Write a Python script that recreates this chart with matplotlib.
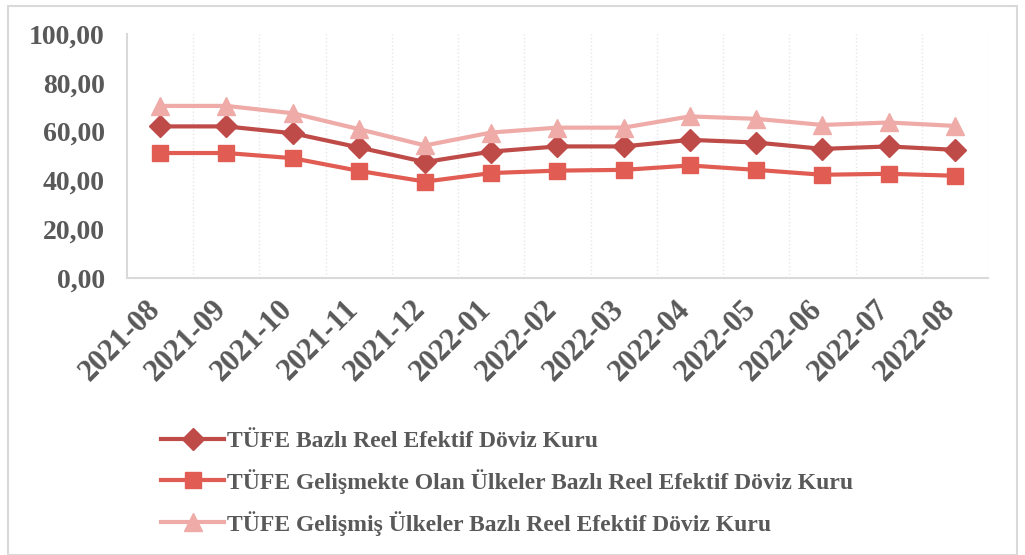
import matplotlib.pyplot as plt
import matplotlib.transforms as mtransforms
from matplotlib.patches import Rectangle

months = ['2021-08', '2021-09', '2021-10', '2021-11', '2021-12', '2022-01', '2022-02',
          '2022-03', '2022-04', '2022-05', '2022-06', '2022-07', '2022-08']
tufe = [62.1, 62.1, 59.3, 53.5, 47.5, 51.8, 53.9, 53.9, 56.6, 55.5, 52.9, 53.9, 52.5]
gelismekte = [51.2, 51.2, 49.1, 43.9, 39.5, 43.0, 44.0, 44.3, 46.1, 44.3, 42.3, 42.7, 41.9]
gelismis = [70.5, 70.5, 67.5, 61.0, 54.3, 59.6, 61.6, 61.6, 66.2, 65.2, 62.7, 63.7, 62.3]
labels = ['TÜFE Bazlı Reel Efektif Döviz Kuru',
          'TÜFE Gelişmekte Olan Ülkeler Bazlı Reel Efektif Döviz Kuru',
          'TÜFE Gelişmiş Ülkeler Bazlı Reel Efektif Döviz Kuru']

plt.rcParams['font.family'] = ['Liberation Serif', 'DejaVu Serif']
plt.rcParams['font.weight'] = 'bold'
grey = '#595959'

fig = plt.figure(figsize=(10.25, 5.55), dpi=100)
fig.patches.append(Rectangle((0.008, 0.0), 0.984, 0.99, transform=fig.transFigure,
                             fill=False, edgecolor='#d9d9d9', linewidth=1.5))
ax = fig.add_axes([0.1239, 0.499, 0.84, 0.44])

x = list(range(len(months)))
ax.plot(x, tufe, color='#be4b48', lw=3, marker='D', ms=11, label=labels[0])
ax.plot(x, gelismekte, color='#e15c52', lw=3, marker='s', ms=12, label=labels[1])
ax.plot(x, gelismis, color='#eeaba8', lw=3, marker='^', ms=13, label=labels[2])

ax.set_xlim(-0.5, len(months) - 0.5)
ax.set_ylim(0, 100)
ax.set_yticks([0, 20, 40, 60, 80, 100])
ax.set_yticklabels(['0,00', '20,00', '40,00', '60,00', '80,00', '100,00'])
ax.set_xticks(x)
ax.set_xticklabels(months, rotation=45, ha='right', va='top')
ax.set_xticks([i + 0.5 for i in x], minor=True)
ax.grid(axis='x', which='minor', color='#e6e6e6', linestyle=':', lw=1)
ax.tick_params(axis='both', which='both', length=0, colors=grey)
ax.tick_params(axis='y', pad=16, labelsize=20)
ax.tick_params(axis='x', pad=12, labelsize=22)
shift = mtransforms.ScaledTranslation(6 / 100, 0, fig.dpi_scale_trans)
for lab in ax.get_xticklabels():
    lab.set_transform(lab.get_transform() + shift)
for lab in ax.get_xticklabels() + ax.get_yticklabels():
    lab.set_fontweight('bold')
for s in ['top', 'right']:
    ax.spines[s].set_visible(False)
for s in ['left', 'bottom']:
    ax.spines[s].set_color('#d9d9d9')
    ax.spines[s].set_linewidth(1.5)

leg = fig.legend(loc='upper left', bbox_to_anchor=(0.136, 0.263), frameon=False,
                 labelspacing=0.72, handlelength=2.7, handletextpad=0.1,
                 prop={'weight': 'bold', 'size': 17})
for t in leg.get_texts():
    t.set_color(grey)

fig.savefig('out.png', dpi=100)
